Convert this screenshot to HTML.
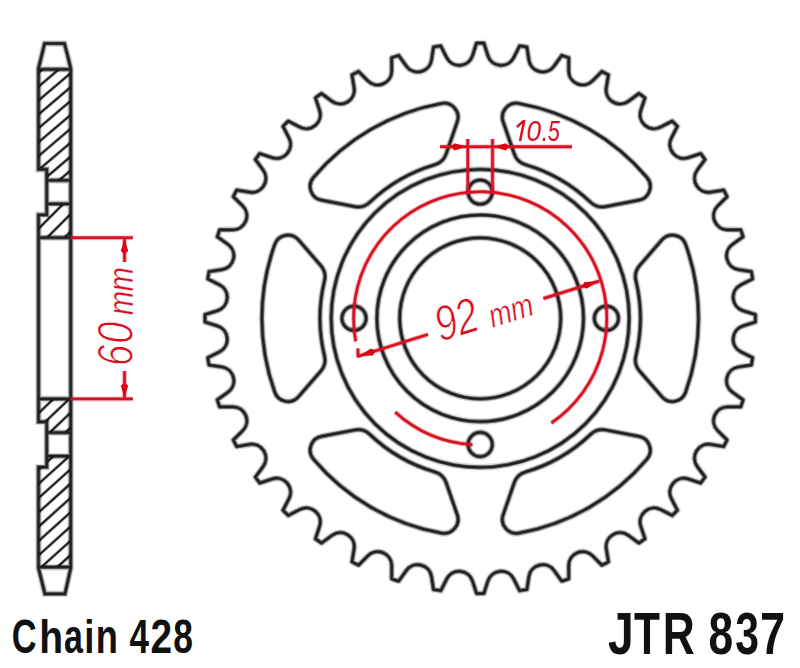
<!DOCTYPE html>
<html><head><meta charset="utf-8"><title>JTR 837</title>
<style>html,body{margin:0;padding:0;background:#fff;}body{width:800px;height:668px;overflow:hidden;font-family:"Liberation Sans",sans-serif;}svg{display:block;}</style>
</head><body>
<svg width="800" height="668" viewBox="0 0 800 668">
<defs><clipPath id="hc0"><path d="M38.5,69.3 L70.7,69.3 L70.7,180.4 L46.7,180.4 L46.7,169.4 L38.5,169.4 Z"/></clipPath>
<clipPath id="hc1"><path d="M46.7,203.9 L70.7,203.9 L70.7,237.7 L38.5,237.7 L38.5,214.8 L46.7,214.8 Z"/></clipPath>
<clipPath id="hc2"><path d="M38.5,398.9 L70.7,398.9 L70.7,432.7 L46.7,432.7 L46.7,421.8 L38.5,421.8 Z"/></clipPath>
<clipPath id="hc3"><path d="M46.7,456.2 L70.7,456.2 L70.7,567.2 L38.5,567.2 L38.5,467.2 L46.7,467.2 Z"/></clipPath><g id="gb"><path d="M44.6,43.5 L64.4,43.5 Q67.8,55.5 70.7,68.5 L70.7,568.1 Q67.8,581.1 65,593.8 L44.9,593.8 Q41.75,581.1 38.5,568.1 L38.5,467.2 L46.7,467.2 L46.7,421.8 L38.5,421.8 L38.5,214.8 L46.7,214.8 L46.7,169.4 L38.5,169.4 L38.5,68.5 Q41.6,56 44.6,43.5 Z"/><path d="M38.5,69.3 L70.7,69.3M38.5,567.2 L70.7,567.2M46.7,180.4 L70.7,180.4M46.7,203.9 L70.7,203.9M46.7,432.7 L70.7,432.7M46.7,456.2 L70.7,456.2M38.5,237.7 L70.7,237.7M38.5,398.9 L70.7,398.9"/><path d="M476.5,43.12A275.2,275.2 0 0 1 483.9,43.12L487.87,55.58A14,14 0 0 0 513.72,57.61L519.59,45.93A275.2,275.2 0 0 1 526.9,47.09L528.88,60.02A14,14 0 0 0 554.09,66.07L561.71,55.45A275.2,275.2 0 0 1 568.75,57.74L568.68,70.81A14,14 0 0 0 592.63,80.73L601.83,71.44A275.2,275.2 0 0 1 608.42,74.8L606.31,87.7A14,14 0 0 0 628.41,101.25L638.95,93.5A275.2,275.2 0 0 1 644.94,97.85L640.83,110.27A14,14 0 0 0 660.54,127.1L672.16,121.11A275.2,275.2 0 0 1 677.39,126.34L671.4,137.96A14,14 0 0 0 688.23,157.67L700.65,153.56A275.2,275.2 0 0 1 705,159.55L697.25,170.09A14,14 0 0 0 710.8,192.19L723.7,190.08A275.2,275.2 0 0 1 727.06,196.67L717.77,205.87A14,14 0 0 0 727.69,229.82L740.76,229.75A275.2,275.2 0 0 1 743.05,236.79L732.43,244.41A14,14 0 0 0 738.48,269.62L751.41,271.6A275.2,275.2 0 0 1 752.57,278.91L740.89,284.78A14,14 0 0 0 742.92,310.63L755.38,314.6A275.2,275.2 0 0 1 755.38,322L742.92,325.97A14,14 0 0 0 740.89,351.82L752.57,357.69A275.2,275.2 0 0 1 751.41,365L738.48,366.98A14,14 0 0 0 732.43,392.19L743.05,399.81A275.2,275.2 0 0 1 740.76,406.85L727.69,406.78A14,14 0 0 0 717.77,430.73L727.06,439.93A275.2,275.2 0 0 1 723.7,446.52L710.8,444.41A14,14 0 0 0 697.25,466.51L705,477.05A275.2,275.2 0 0 1 700.65,483.04L688.23,478.93A14,14 0 0 0 671.4,498.64L677.39,510.26A275.2,275.2 0 0 1 672.16,515.49L660.54,509.5A14,14 0 0 0 640.83,526.33L644.94,538.75A275.2,275.2 0 0 1 638.95,543.1L628.41,535.35A14,14 0 0 0 606.31,548.9L608.42,561.8A275.2,275.2 0 0 1 601.83,565.16L592.63,555.87A14,14 0 0 0 568.68,565.79L568.75,578.86A275.2,275.2 0 0 1 561.71,581.15L554.09,570.53A14,14 0 0 0 528.88,576.58L526.9,589.51A275.2,275.2 0 0 1 519.59,590.67L513.72,578.99A14,14 0 0 0 487.87,581.02L483.9,593.48A275.2,275.2 0 0 1 476.5,593.48L472.53,581.02A14,14 0 0 0 446.68,578.99L440.81,590.67A275.2,275.2 0 0 1 433.5,589.51L431.52,576.58A14,14 0 0 0 406.31,570.53L398.69,581.15A275.2,275.2 0 0 1 391.65,578.86L391.72,565.79A14,14 0 0 0 367.77,555.87L358.57,565.16A275.2,275.2 0 0 1 351.98,561.8L354.09,548.9A14,14 0 0 0 331.99,535.35L321.45,543.1A275.2,275.2 0 0 1 315.46,538.75L319.57,526.33A14,14 0 0 0 299.86,509.5L288.24,515.49A275.2,275.2 0 0 1 283.01,510.26L289,498.64A14,14 0 0 0 272.17,478.93L259.75,483.04A275.2,275.2 0 0 1 255.4,477.05L263.15,466.51A14,14 0 0 0 249.6,444.41L236.7,446.52A275.2,275.2 0 0 1 233.34,439.93L242.63,430.73A14,14 0 0 0 232.71,406.78L219.64,406.85A275.2,275.2 0 0 1 217.35,399.81L227.97,392.19A14,14 0 0 0 221.92,366.98L208.99,365A275.2,275.2 0 0 1 207.83,357.69L219.51,351.82A14,14 0 0 0 217.48,325.97L205.02,322A275.2,275.2 0 0 1 205.02,314.6L217.48,310.63A14,14 0 0 0 219.51,284.78L207.83,278.91A275.2,275.2 0 0 1 208.99,271.6L221.92,269.62A14,14 0 0 0 227.97,244.41L217.35,236.79A275.2,275.2 0 0 1 219.64,229.75L232.71,229.82A14,14 0 0 0 242.63,205.87L233.34,196.67A275.2,275.2 0 0 1 236.7,190.08L249.6,192.19A14,14 0 0 0 263.15,170.09L255.4,159.55A275.2,275.2 0 0 1 259.75,153.56L272.17,157.67A14,14 0 0 0 289,137.96L283.01,126.34A275.2,275.2 0 0 1 288.24,121.11L299.86,127.1A14,14 0 0 0 319.57,110.27L315.46,97.85A275.2,275.2 0 0 1 321.45,93.5L331.99,101.25A14,14 0 0 0 354.09,87.7L351.98,74.8A275.2,275.2 0 0 1 358.57,71.44L367.77,80.73A14,14 0 0 0 391.72,70.81L391.65,57.74A275.2,275.2 0 0 1 398.69,55.45L406.31,66.07A14,14 0 0 0 431.52,60.02L433.5,47.09A275.2,275.2 0 0 1 440.81,45.93L446.68,57.61A14,14 0 0 0 472.53,55.58L476.5,43.12Z" stroke-linejoin="round"/><path d="M525.49,164.64A17,17 0 0 1 514.23,153.88L503.15,121.8A14,14 0 0 1 518.86,103.45A218.3,218.3 0 0 1 646.93,177.39A14,14 0 0 1 638.9,200.17L605.58,206.62A17,17 0 0 1 590.63,202.24A160.2,160.2 0 0 0 525.49,164.64ZM635.92,280.69A17,17 0 0 1 639.61,265.56L661.85,239.93A14,14 0 0 1 685.6,244.36A218.3,218.3 0 0 1 685.6,392.24A14,14 0 0 1 661.85,396.67L639.61,371.04A17,17 0 0 1 635.92,355.91A160.2,160.2 0 0 0 635.92,280.69ZM590.63,434.36A17,17 0 0 1 605.58,429.98L638.9,436.43A14,14 0 0 1 646.93,459.21A218.3,218.3 0 0 1 518.86,533.15A14,14 0 0 1 503.15,514.8L514.23,482.72A17,17 0 0 1 525.49,471.96A160.2,160.2 0 0 0 590.63,434.36ZM434.91,471.96A17,17 0 0 1 446.17,482.72L457.25,514.8A14,14 0 0 1 441.54,533.15A218.3,218.3 0 0 1 313.47,459.21A14,14 0 0 1 321.5,436.43L354.82,429.98A17,17 0 0 1 369.77,434.36A160.2,160.2 0 0 0 434.91,471.96ZM324.48,355.91A17,17 0 0 1 320.79,371.04L298.55,396.67A14,14 0 0 1 274.8,392.24A218.3,218.3 0 0 1 274.8,244.36A14,14 0 0 1 298.55,239.93L320.79,265.56A17,17 0 0 1 324.48,280.69A160.2,160.2 0 0 0 324.48,355.91ZM369.77,202.24A17,17 0 0 1 354.82,206.62L321.5,200.17A14,14 0 0 1 313.47,177.39A218.3,218.3 0 0 1 441.54,103.45A14,14 0 0 1 457.25,121.8L446.17,153.88A17,17 0 0 1 434.91,164.64A160.2,160.2 0 0 0 369.77,202.24Z"/><circle cx="480.2" cy="318.3" r="149"/><circle cx="480.2" cy="318.3" r="103.3"/><circle cx="480.2" cy="318.3" r="80.5"/><circle cx="480.2" cy="192.1" r="12.1"/><circle cx="606.4" cy="318.3" r="12.1"/><circle cx="480.2" cy="444.5" r="12.1"/><circle cx="354" cy="318.3" r="12.1"/></g><g id="gh"><path d="M35.5,75.23 L73.7,42.76M35.5,89.14 L73.7,56.66M35.5,103.04 L73.7,70.56M35.5,116.94 L73.7,84.47M35.5,130.83 L73.7,98.36M35.5,144.73 L73.7,112.26M35.5,158.63 L73.7,126.16M35.5,172.53 L73.7,140.06M35.5,186.44 L73.7,153.97M35.5,200.33 L73.7,167.86M35.5,214.24 L73.7,181.77" clip-path="url(#hc0)"/><path d="M35.5,214.2 L73.7,176M35.5,231.7 L73.7,193.5M35.5,249.2 L73.7,211M35.5,266.7 L73.7,228.5" clip-path="url(#hc1)"/><path d="M35.5,401.05 L73.7,364.75M35.5,416.05 L73.7,379.75M35.5,431.05 L73.7,394.75M35.5,446.05 L73.7,409.75M35.5,461.05 L73.7,424.75" clip-path="url(#hc2)"/><path d="M35.5,457.99 L73.7,423.61M35.5,472.29 L73.7,437.91M35.5,486.59 L73.7,452.21M35.5,500.89 L73.7,466.51M35.5,515.19 L73.7,480.81M35.5,529.49 L73.7,495.11M35.5,543.79 L73.7,509.41M35.5,558.09 L73.7,523.71M35.5,572.39 L73.7,538.01M35.5,586.69 L73.7,552.31M35.5,600.99 L73.7,566.61" clip-path="url(#hc3)"/></g><g id="gr"><path d="M70.7,237.7 L132.8,237.7 M70.7,398.9 L132.8,398.9 M124.5,237.7 L124.5,262 M124.5,398.9 L124.5,371"/><path d="M467.8,139 L467.8,194 M492.5,139 L492.5,194 M440,146.8 L572,146.8"/><path d="M355.72,341.37 A126.6,126.6 0 1 1 551.36,423.01 M472.47,444.66 A126.6,126.6 0 0 1 395.16,412.09"/><path d="M358,356.3 L428,334.47 M543.4,298.49 L599.5,281 M357.9,348.5 L358.1,357.5"/></g></defs>
<use href="#gh" fill="none" stroke="#000" stroke-width="3.6" opacity="0.2"/>
<use href="#gh" fill="none" stroke="#000" stroke-width="2.5" opacity="0.4"/>
<use href="#gh" fill="none" stroke="#202020" stroke-width="1.7"/>
<use href="#gb" fill="none" stroke="#000" stroke-width="6.6" opacity="0.14"/>
<use href="#gb" fill="none" stroke="#000" stroke-width="4.2" opacity="0.5"/>
<use href="#gb" fill="none" stroke="#202020" stroke-width="2.3"/>
<use href="#gr" fill="none" stroke="#d8101f" stroke-width="5.0" opacity="0.2"/>
<use href="#gr" fill="none" stroke="#d8101f" stroke-width="3.6" opacity="0.45"/>
<use href="#gr" fill="none" stroke="#d8101f" stroke-width="2.4"/>
<path d="M124.5,239.2 L128.2,250.9 L124.5,254.2 L120.8,250.9 Z" fill="#da0514"/>
<path d="M124.5,397.4 L120.8,385.7 L124.5,382.4 L128.2,385.7 Z" fill="#da0514"/>
<path d="M466.6,146.8 L454.51,150.4 L451.1,146.8 L454.51,143.2 Z" fill="#da0514"/>
<path d="M493.7,146.8 L505.79,143.2 L509.2,146.8 L505.79,150.4 Z" fill="#da0514"/>
<path d="M359.3,355.89 L370.89,348.51 L375.53,350.83 L373.03,355.38 Z" fill="#da0514"/>
<path d="M598.2,281.41 L586.61,288.79 L581.97,286.47 L584.47,281.92 Z" fill="#da0514"/>
<g font-family="Liberation Sans">
<text transform="translate(11.69,652.9) scale(0.7245,1.0000)" font-size="47.5" font-weight="bold" fill="#111">C</text><text transform="translate(39.17,652.9) scale(0.8219,0.9700)" font-size="47.5" font-weight="bold" fill="#111">h</text><text transform="translate(64.01,652.9) scale(0.7146,1.0000)" font-size="47.5" font-weight="bold" fill="#111">a</text><text transform="translate(84.36,652.9) scale(0.7672,0.9700)" font-size="47.5" font-weight="bold" fill="#111">i</text><text transform="translate(95.71,652.9) scale(0.7629,1.0000)" font-size="47.5" font-weight="bold" fill="#111">n</text><text transform="translate(129.47,652.9) scale(0.7369,1.0000)" font-size="47.5" font-weight="bold" fill="#111">4</text><text transform="translate(150.55,652.9) scale(0.8177,1.0000)" font-size="47.5" font-weight="bold" fill="#111">2</text><text transform="translate(173.27,652.9) scale(0.7463,1.0000)" font-size="47.5" font-weight="bold" fill="#111">8</text>
<text transform="translate(608.05,653.7) scale(0.7835,1.0000)" font-size="59" font-weight="bold" fill="#111">J</text><text transform="translate(633.92,653.7) scale(0.7196,1.0000)" font-size="59" font-weight="bold" fill="#111">T</text><text transform="translate(662.63,653.7) scale(0.7516,1.0000)" font-size="59" font-weight="bold" fill="#111">R</text><text transform="translate(708.59,653.7) scale(0.7519,1.0000)" font-size="59" font-weight="bold" fill="#111">8</text><text transform="translate(735.27,653.7) scale(0.7246,1.0000)" font-size="59" font-weight="bold" fill="#111">3</text><text transform="translate(759.96,653.7) scale(0.7658,1.0000)" font-size="59" font-weight="bold" fill="#111">7</text>
<path d="M516.9,127.1 L523.2,121.1 M524.35,119.9 L520.05,140.9" stroke="#d8101f" stroke-width="2.5" fill="none"/>
<text transform="translate(526.46,140.9) scale(0.8723,1.0000)" font-size="30" font-style="italic" fill="#d8101f">0</text><text transform="translate(541.69,140.9) scale(0.7745,1.0000)" font-size="30" font-style="italic" fill="#d8101f">.</text><text transform="translate(547.81,140.9) scale(0.7212,1.0000)" font-size="30" font-style="italic" fill="#d8101f">5</text>
<g transform="translate(132.8,400) rotate(-90)">
<text transform="translate(33.95,0) scale(0.7686,1.0000)" font-size="49.7" font-style="italic" fill="#d8101f" stroke="#fff" stroke-width="1.0">6</text><text transform="translate(56.28,0) scale(0.7978,1.0000)" font-size="49.7" font-style="italic" fill="#d8101f" stroke="#fff" stroke-width="1.0">0</text>
<text transform="translate(85.12,0) scale(0.8190,1.0000)" font-size="35.2" font-style="italic" fill="#d8101f" stroke="#fff" stroke-width="0.35">m</text><text transform="translate(108.82,0) scale(0.8190,1.0000)" font-size="35.2" font-style="italic" fill="#d8101f" stroke="#fff" stroke-width="0.35">m</text>
</g>
<g transform="translate(440.5,342.0) rotate(-17)" font-style="italic" fill="#d8101f" stroke="#fff"><text transform="scale(0.8,1)" font-size="49.5" letter-spacing="-1" stroke-width="0.9">92</text><text transform="translate(53.8,1.5) scale(0.82,1)" font-size="33" stroke-width="0.35">mm</text></g>
</g>
</svg>
</body></html>
